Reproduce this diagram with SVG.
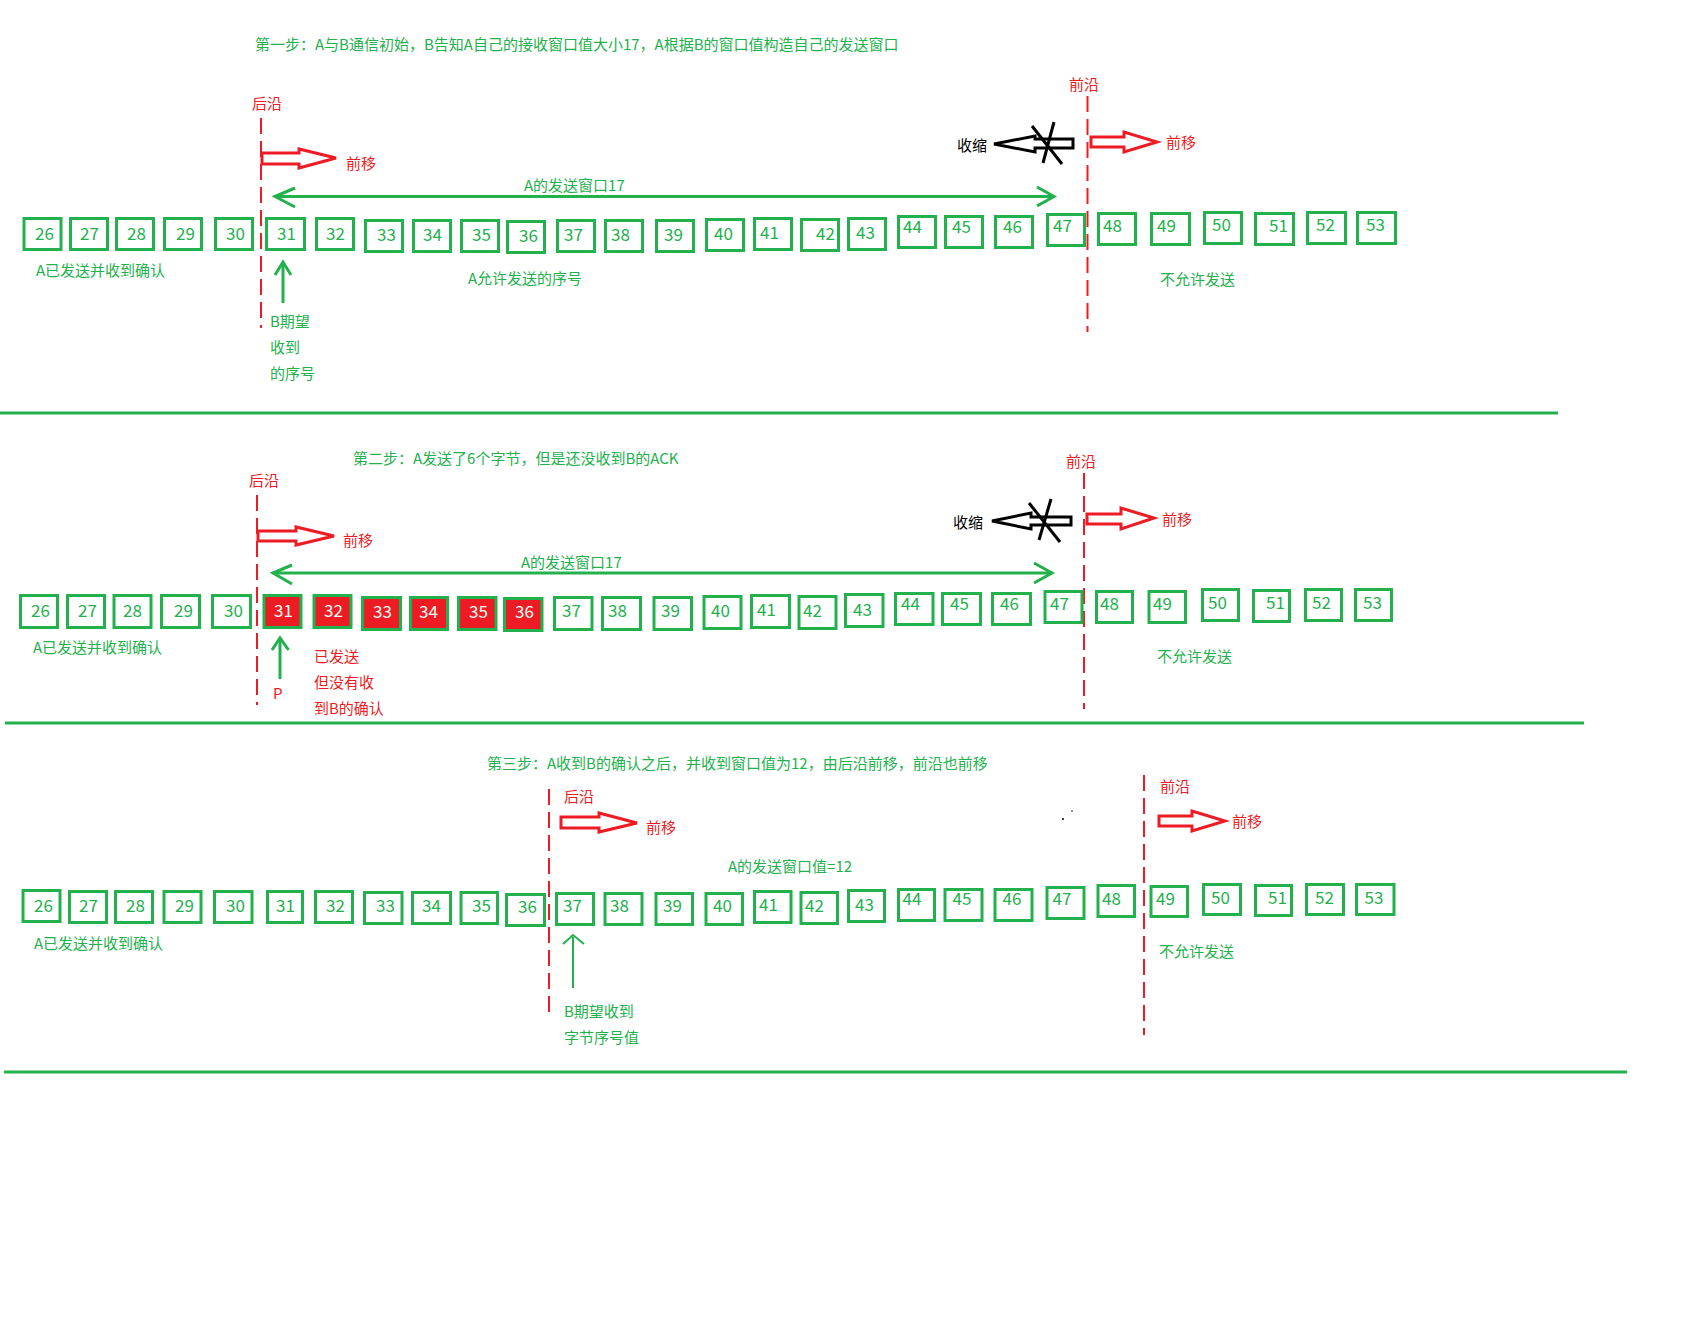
<svg xmlns="http://www.w3.org/2000/svg" width="1683" height="1319" viewBox="0 0 1683 1319">
<style>
text{font-family:"Noto Sans CJK SC","Noto Sans",sans-serif;}
.box{fill:#fff;stroke:#22B14C;stroke-width:3}
.sent{fill:#ED1C24;stroke:#22B14C;stroke-width:3}
.num{font-size:17px;fill:#22B14C}
.snum{font-size:17px;fill:#f2fff4}
.g{font-size:15px;fill:#22B14C}
.r{font-size:15px;fill:#ED1C24}
.k{font-size:15px;fill:#000}
.edge{stroke:#ED1C24;stroke-width:2;stroke-dasharray:16 7;fill:none}
.sep{stroke:#22B14C;stroke-width:3}
.ra{fill:#fff;stroke:#ED1C24;stroke-width:3}
.ka{fill:#fff;stroke:#000;stroke-width:3}
.kl{stroke:#000;stroke-width:3}
.gl{stroke:#22B14C;stroke-width:3;fill:none}
</style>
<rect width="1683" height="1319" fill="#fff"/>

<g id="connectors">
  <line class="sep" x1="0" y1="413" x2="1558" y2="413"/>
  <line class="sep" x1="5" y1="723" x2="1584" y2="723"/>
  <line class="sep" x1="4" y1="1072" x2="1627" y2="1072"/>
  <line class="edge" x1="261" y1="118" x2="261" y2="328"/>
  <line class="edge" x1="1087.5" y1="96" x2="1087.5" y2="332"/>
  <line class="edge" x1="257" y1="495" x2="257" y2="705"/>
  <line class="edge" x1="1084" y1="473" x2="1084" y2="709"/>
  <line class="edge" x1="549" y1="789" x2="549" y2="1012"/>
  <line class="edge" x1="1144" y1="775" x2="1144" y2="1035"/>
  <polygon class="ra" points="262,153 299,153 299,149 336,158 299,168 299,164 262,164"/>
  <polygon class="ra" points="1091,137 1124,137 1124,132 1157,142 1124,152 1124,147 1091,147"/>
  <polygon class="ra" points="258,531 296,531 296,527 334,536 296,545 296,541 258,541"/>
  <polygon class="ra" points="1087,514 1121,514 1121,508 1154,518 1121,529 1121,524 1087,524"/>
  <polygon class="ra" points="561,817 599,817 599,813 637,823 599,832 599,828 561,828"/>
  <polygon class="ra" points="1159,816 1192,816 1192,811 1225,821 1192,831 1192,826 1159,826"/>
  <polygon class="ka" points="994,144 1035,136 1035,139 1073,139 1073,148 1035,148 1035,152"/>
  <line class="kl" x1="1032" y1="126" x2="1062" y2="164"/>
  <line class="kl" x1="1054" y1="122" x2="1043" y2="163"/>
  <polygon class="ka" points="992,521 1031,513 1031,517 1071,517 1071,525 1031,525 1031,529"/>
  <line class="kl" x1="1029" y1="503" x2="1060" y2="542"/>
  <line class="kl" x1="1051" y1="499" x2="1039" y2="540"/>
  <line class="gl" x1="275" y1="196.5" x2="1053" y2="196.5"/>
  <polyline class="gl" points="295,188 275,196.5 295,207"/>
  <polyline class="gl" points="1037,187 1054,196.5 1037,206"/>
  <line class="gl" x1="273" y1="573" x2="1051" y2="573"/>
  <polyline class="gl" points="292,565 273,573 292,584"/>
  <polyline class="gl" points="1034,563 1052,573 1034,583"/>
  <line class="gl" x1="283" y1="303" x2="283" y2="263"/>
  <polyline class="gl" points="275,275 283,262 291,275"/>
  <line class="gl" x1="280" y1="679" x2="280" y2="639"/>
  <polyline class="gl" points="272,650 280,638 288.6,650"/>
  <line class="gl" style="stroke-width:2" x1="573" y1="988" x2="573" y2="937"/>
  <polyline class="gl" style="stroke-width:2" points="563,944 573,935 584,944"/>
  <circle cx="1063" cy="819" r="1" fill="#000"/>
  <circle cx="1072" cy="811" r="0.8" fill="#000"/>
</g>

<g id="labels">
  <text class="g" x="255" y="50">第一步：A与B通信初始，B告知A自己的接收窗口值大小17，A根据B的窗口值构造自己的发送窗口</text>
  <text class="r" x="252" y="109">后沿</text>
  <text class="r" x="346" y="169">前移</text>
  <text class="g" x="524" y="191">A的发送窗口17</text>
  <text class="r" x="1069" y="90">前沿</text>
  <text class="k" x="957" y="151">收缩</text>
  <text class="r" x="1166" y="148">前移</text>
  <text class="g" x="36" y="276">A已发送并收到确认</text>
  <text class="g" x="468" y="284">A允许发送的序号</text>
  <text class="g" x="1160" y="285">不允许发送</text>
  <text class="g" x="270" y="327">B期望</text>
  <text class="g" x="270" y="353">收到</text>
  <text class="g" x="270" y="379">的序号</text>

  <text class="g" x="353" y="464">第二步：A发送了6个字节，但是还没收到B的ACK</text>
  <text class="r" x="249" y="486">后沿</text>
  <text class="r" x="343" y="546">前移</text>
  <text class="g" x="521" y="568">A的发送窗口17</text>
  <text class="r" x="1066" y="467">前沿</text>
  <text class="k" x="953" y="528">收缩</text>
  <text class="r" x="1162" y="525">前移</text>
  <text class="g" x="33" y="653">A已发送并收到确认</text>
  <text class="r" x="273" y="699">P</text>
  <text class="r" x="314" y="662">已发送</text>
  <text class="r" x="314" y="688">但没有收</text>
  <text class="r" x="314" y="714">到B的确认</text>
  <text class="g" x="1157" y="662">不允许发送</text>

  <text class="g" x="487" y="769">第三步：A收到B的确认之后，并收到窗口值为12，由后沿前移，前沿也前移</text>
  <text class="r" x="564" y="802">后沿</text>
  <text class="r" x="646" y="833">前移</text>
  <text class="g" x="728" y="872">A的发送窗口值=12</text>
  <text class="r" x="1160" y="792">前沿</text>
  <text class="r" x="1232" y="827">前移</text>
  <text class="g" x="34" y="949">A已发送并收到确认</text>
  <text class="g" x="564" y="1017">B期望收到</text>
  <text class="g" x="564" y="1043">字节序号值</text>
  <text class="g" x="1159" y="957">不允许发送</text>
</g>

<g id="row1">
  <g id="r1-26"><rect class="box" x="24" y="218.5" width="37" height="31"/><text class="num" x="35" y="240">26</text></g>
  <g id="r1-27"><rect class="box" x="70.5" y="218.5" width="37" height="31"/><text class="num" x="80" y="240">27</text></g>
  <g id="r1-28"><rect class="box" x="116.5" y="218.5" width="37" height="31"/><text class="num" x="127" y="240">28</text></g>
  <g id="r1-29"><rect class="box" x="164.5" y="218.5" width="37" height="31"/><text class="num" x="176" y="240">29</text></g>
  <g id="r1-30"><rect class="box" x="215.5" y="218.5" width="37" height="31"/><text class="num" x="226" y="240">30</text></g>
  <g id="r1-31"><rect class="box" x="266.5" y="218.5" width="38" height="31"/><text class="num" x="277" y="240">31</text></g>
  <g id="r1-32"><rect class="box" x="316.5" y="218.5" width="37" height="31"/><text class="num" x="326" y="240">32</text></g>
  <g id="r1-33"><rect class="box" x="365.5" y="220.5" width="37" height="31"/><text class="num" x="377" y="241">33</text></g>
  <g id="r1-34"><rect class="box" x="413.5" y="220.5" width="37" height="31"/><text class="num" x="423" y="241">34</text></g>
  <g id="r1-35"><rect class="box" x="461.5" y="220.5" width="37" height="31"/><text class="num" x="472" y="241">35</text></g>
  <g id="r1-36"><rect class="box" x="507.5" y="221.5" width="37" height="31"/><text class="num" x="519" y="242">36</text></g>
  <g id="r1-37"><rect class="box" x="557.5" y="220.5" width="37" height="31"/><text class="num" x="564" y="241">37</text></g>
  <g id="r1-38"><rect class="box" x="605.5" y="220.5" width="37" height="31"/><text class="num" x="611" y="241">38</text></g>
  <g id="r1-39"><rect class="box" x="656.5" y="220.5" width="37" height="31"/><text class="num" x="664" y="241">39</text></g>
  <g id="r1-40"><rect class="box" x="706.5" y="219.5" width="37" height="31"/><text class="num" x="714" y="240">40</text></g>
  <g id="r1-41"><rect class="box" x="754.5" y="218.5" width="37" height="31"/><text class="num" x="760" y="239">41</text></g>
  <g id="r1-42"><rect class="box" x="801.5" y="219.5" width="37" height="31"/><text class="num" x="816" y="240">42</text></g>
  <g id="r1-43"><rect class="box" x="848.5" y="218.5" width="37" height="31"/><text class="num" x="856" y="239">43</text></g>
  <g id="r1-44"><rect class="box" x="898.5" y="216.5" width="37" height="31"/><text class="num" x="903" y="233">44</text></g>
  <g id="r1-45"><rect class="box" x="945.5" y="216.5" width="37" height="31"/><text class="num" x="952" y="233">45</text></g>
  <g id="r1-46"><rect class="box" x="995.5" y="216.5" width="37" height="31"/><text class="num" x="1003" y="233">46</text></g>
  <g id="r1-47"><rect class="box" x="1047.5" y="214.5" width="37" height="31"/><text class="num" x="1053" y="232">47</text></g>
  <g id="r1-48"><rect class="box" x="1098.5" y="213.5" width="37" height="31"/><text class="num" x="1103" y="232">48</text></g>
  <g id="r1-49"><rect class="box" x="1151.5" y="213.5" width="38" height="31"/><text class="num" x="1157" y="232">49</text></g>
  <g id="r1-50"><rect class="box" x="1204.5" y="212.5" width="37" height="31"/><text class="num" x="1212" y="231">50</text></g>
  <g id="r1-51"><rect class="box" x="1255.5" y="213.5" width="38" height="31"/><text class="num" x="1269" y="232">51</text></g>
  <g id="r1-52"><rect class="box" x="1307.5" y="212.5" width="38" height="31"/><text class="num" x="1316" y="231">52</text></g>
  <g id="r1-53"><rect class="box" x="1357.5" y="212.5" width="38" height="31"/><text class="num" x="1366" y="231">53</text></g>
</g>

<g id="row2">
  <g id="r2-26"><rect class="box" x="20.5" y="595.5" width="37" height="32"/><text class="num" x="31" y="617">26</text></g>
  <g id="r2-27"><rect class="box" x="67.5" y="595.5" width="37" height="32"/><text class="num" x="78" y="617">27</text></g>
  <g id="r2-28"><rect class="box" x="114" y="595.5" width="37" height="32"/><text class="num" x="123" y="617">28</text></g>
  <g id="r2-29"><rect class="box" x="161.5" y="595.5" width="38" height="32"/><text class="num" x="174" y="617">29</text></g>
  <g id="r2-30"><rect class="box" x="212.5" y="595.5" width="38" height="32"/><text class="num" x="224" y="617">30</text></g>
  <g id="r2-31"><rect class="sent" x="264" y="595.5" width="37" height="32"/><text class="snum" x="274" y="617">31</text></g>
  <g id="r2-32"><rect class="sent" x="314" y="595.5" width="37" height="32"/><text class="snum" x="324" y="617">32</text></g>
  <g id="r2-33"><rect class="sent" x="362.5" y="597.5" width="38" height="32"/><text class="snum" x="373" y="618">33</text></g>
  <g id="r2-34"><rect class="sent" x="410.5" y="597.5" width="37" height="32"/><text class="snum" x="419" y="618">34</text></g>
  <g id="r2-35"><rect class="sent" x="458.5" y="597.5" width="37.5" height="32"/><text class="snum" x="469" y="618">35</text></g>
  <g id="r2-36"><rect class="sent" x="504.5" y="598.5" width="37.5" height="32"/><text class="snum" x="515" y="618">36</text></g>
  <g id="r2-37"><rect class="box" x="554.5" y="597.5" width="37.5" height="32"/><text class="num" x="562" y="617">37</text></g>
  <g id="r2-38"><rect class="box" x="602.5" y="597.5" width="38" height="32"/><text class="num" x="608" y="617">38</text></g>
  <g id="r2-39"><rect class="box" x="654" y="597.5" width="37.5" height="32"/><text class="num" x="661" y="617">39</text></g>
  <g id="r2-40"><rect class="box" x="704" y="596.5" width="37" height="32"/><text class="num" x="711" y="617">40</text></g>
  <g id="r2-41"><rect class="box" x="751.5" y="595.5" width="38" height="32"/><text class="num" x="757" y="616">41</text></g>
  <g id="r2-42"><rect class="box" x="799" y="596.5" width="37" height="32"/><text class="num" x="803" y="617">42</text></g>
  <g id="r2-43"><rect class="box" x="845.5" y="594.5" width="37.5" height="32"/><text class="num" x="853" y="616">43</text></g>
  <g id="r2-44"><rect class="box" x="895.5" y="593.5" width="37.5" height="31"/><text class="num" x="901" y="610">44</text></g>
  <g id="r2-45"><rect class="box" x="942.5" y="593.5" width="38" height="31"/><text class="num" x="950" y="610">45</text></g>
  <g id="r2-46"><rect class="box" x="992.5" y="593.5" width="38" height="31"/><text class="num" x="1000" y="610">46</text></g>
  <g id="r2-47"><rect class="box" x="1045" y="591.5" width="37" height="31"/><text class="num" x="1050" y="610">47</text></g>
  <g id="r2-48"><rect class="box" x="1096.5" y="591.5" width="36" height="31"/><text class="num" x="1100" y="610">48</text></g>
  <g id="r2-49"><rect class="box" x="1149" y="591.5" width="36.5" height="31"/><text class="num" x="1153" y="610">49</text></g>
  <g id="r2-50"><rect class="box" x="1202.5" y="589.5" width="36" height="31"/><text class="num" x="1208" y="609">50</text></g>
  <g id="r2-51"><rect class="box" x="1253.5" y="590.5" width="36" height="31"/><text class="num" x="1266" y="609">51</text></g>
  <g id="r2-52"><rect class="box" x="1305.5" y="589.5" width="36" height="31"/><text class="num" x="1312" y="609">52</text></g>
  <g id="r2-53"><rect class="box" x="1355.5" y="589.5" width="36" height="31"/><text class="num" x="1363" y="609">53</text></g>
</g>

<g id="row3">
  <g id="r3-26"><rect class="box" x="23" y="890.5" width="37" height="31"/><text class="num" x="34" y="912">26</text></g>
  <g id="r3-27"><rect class="box" x="69.5" y="891.5" width="37" height="31"/><text class="num" x="79" y="912">27</text></g>
  <g id="r3-28"><rect class="box" x="115.5" y="891.5" width="37" height="31"/><text class="num" x="126" y="912">28</text></g>
  <g id="r3-29"><rect class="box" x="164" y="891.5" width="37" height="31"/><text class="num" x="175" y="912">29</text></g>
  <g id="r3-30"><rect class="box" x="214.5" y="891.5" width="37.5" height="31"/><text class="num" x="226" y="912">30</text></g>
  <g id="r3-31"><rect class="box" x="267.5" y="891.5" width="35" height="31"/><text class="num" x="276" y="912">31</text></g>
  <g id="r3-32"><rect class="box" x="315.5" y="891.5" width="37" height="31"/><text class="num" x="326" y="912">32</text></g>
  <g id="r3-33"><rect class="box" x="364.5" y="892.5" width="37.5" height="31"/><text class="num" x="376" y="912">33</text></g>
  <g id="r3-34"><rect class="box" x="412.5" y="892.5" width="38" height="31"/><text class="num" x="422" y="912">34</text></g>
  <g id="r3-35"><rect class="box" x="461" y="892.5" width="36.5" height="31"/><text class="num" x="472" y="912">35</text></g>
  <g id="r3-36"><rect class="box" x="506.5" y="894.5" width="38" height="31"/><text class="num" x="518" y="913">36</text></g>
  <g id="r3-37"><rect class="box" x="556.5" y="893.5" width="37" height="31"/><text class="num" x="563" y="912">37</text></g>
  <g id="r3-38"><rect class="box" x="605" y="893.5" width="37" height="31"/><text class="num" x="610" y="912">38</text></g>
  <g id="r3-39"><rect class="box" x="656" y="893.5" width="36.5" height="31"/><text class="num" x="663" y="912">39</text></g>
  <g id="r3-40"><rect class="box" x="706" y="893.5" width="36.5" height="31"/><text class="num" x="713" y="912">40</text></g>
  <g id="r3-41"><rect class="box" x="754.5" y="891.5" width="36.5" height="31"/><text class="num" x="759" y="911">41</text></g>
  <g id="r3-42"><rect class="box" x="801" y="892.5" width="36.5" height="31"/><text class="num" x="805" y="912">42</text></g>
  <g id="r3-43"><rect class="box" x="848.5" y="890.5" width="36" height="31"/><text class="num" x="855" y="911">43</text></g>
  <g id="r3-44"><rect class="box" x="898.5" y="889.5" width="36" height="31"/><text class="num" x="902.5" y="905">44</text></g>
  <g id="r3-45"><rect class="box" x="945" y="889.5" width="37" height="31"/><text class="num" x="952.5" y="905">45</text></g>
  <g id="r3-46"><rect class="box" x="995" y="889.5" width="37" height="31"/><text class="num" x="1002.5" y="905">46</text></g>
  <g id="r3-47"><rect class="box" x="1047" y="887.5" width="37" height="31"/><text class="num" x="1052.5" y="905">47</text></g>
  <g id="r3-48"><rect class="box" x="1098" y="885.5" width="36.5" height="31"/><text class="num" x="1102" y="905">48</text></g>
  <g id="r3-49"><rect class="box" x="1151" y="886.5" width="36.5" height="30"/><text class="num" x="1156" y="905">49</text></g>
  <g id="r3-50"><rect class="box" x="1203.5" y="884.5" width="37" height="30"/><text class="num" x="1211" y="904">50</text></g>
  <g id="r3-51"><rect class="box" x="1255.5" y="885.5" width="36" height="30"/><text class="num" x="1268" y="904">51</text></g>
  <g id="r3-52"><rect class="box" x="1306.5" y="884.5" width="37" height="30"/><text class="num" x="1315" y="904">52</text></g>
  <g id="r3-53"><rect class="box" x="1356.5" y="884.5" width="37.5" height="30"/><text class="num" x="1364.5" y="904">53</text></g>
</g>
</svg>
